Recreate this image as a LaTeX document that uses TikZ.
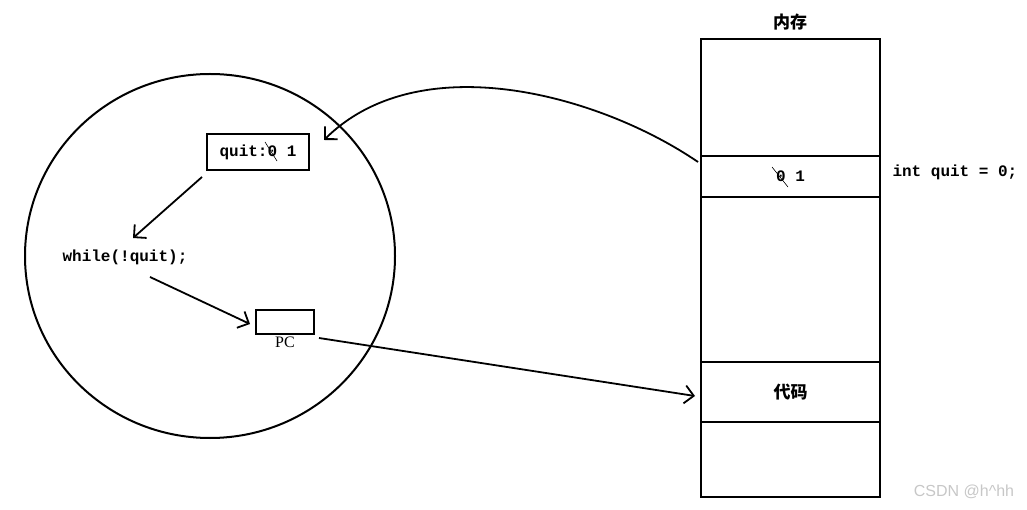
\documentclass[tikz,border=0pt]{standalone}
\usepackage{fontspec}
\setmainfont{Liberation Serif}
\setmonofont{Liberation Mono}
\setsansfont{Liberation Sans}
\newfontfamily\cjk{Noto Sans CJK SC}
\usetikzlibrary{positioning,arrows.meta}

\tikzset{
  cell/.style={draw, line width=2pt, minimum width=179pt, inner sep=0pt, outer sep=0pt},
  codetext/.style={font=\ttfamily\bfseries\fontsize{16}{18}\selectfont},
  cjktext/.style={font=\cjk\bfseries\fontsize{17}{20}\selectfont},
  arr/.style={line width=1.8pt, -{Straight Barb[length=9pt,width=18pt]}},
  cross/.style={line width=0.6pt},
}

\begin{document}
\begin{tikzpicture}[x=1pt,y=-1pt]
  \useasboundingbox (0,0) rectangle (1027,510);

  % 线程
  \draw[line width=2pt] (210,256) ellipse (185pt and 182pt);
  \node[codetext, draw, line width=2pt, minimum width=102pt, minimum height=36pt, inner sep=0pt] (quitbox) at (258,152) {quit:0 1};
  \draw[cross] (265,142) -- (277,161);
  \node[codetext] (loop) at (125,257) {while(!quit);};
  \node[draw, line width=2pt, minimum width=58pt, minimum height=24pt, inner sep=0pt] (pcbox) at (285,322) {};
  \node[below=0pt of pcbox, inner sep=2pt, font=\fontsize{16}{18}\selectfont] (pclabel) {PC};

  % 内存
  \node[cell, minimum height=117pt] (topcell) at (790.5,97.5) {};
  \node[cell, codetext, minimum height=41pt, below=0pt of topcell] (varcell) {0 1};
  \node[cell, minimum height=165pt, below=0pt of varcell] (midcell) {};
  \node[cell, cjktext, minimum height=60pt, below=0pt of midcell] (codecell) {代码};
  \node[cell, minimum height=75pt, below=0pt of codecell] (lowcell) {};
  \draw[cross] (772,167) -- (788,187);
  \node[cjktext] (memlabel) at (790,22) {内存};
  \node[codetext, anchor=west] (decl) at (889,172) {int quit = 0;};

  % 箭头
  \draw[arr] ([shift={(-3,6)}]varcell.north west) .. controls (600,95) and (420,45) .. ([shift={(14,-12)}]quitbox.east);
  \draw[arr] ([shift={(-4,6)}]quitbox.south west) -- ([shift={(8,-8)}]loop.north);
  \draw[arr] ([shift={(25,9)}]loop.south) -- ([shift={(-5,2)}]pcbox.west);
  \draw[arr] ([shift={(4,3)}]pcbox.south east) -- ([shift={(-6,4)}]codecell.west);

  \node[font=\sffamily\fontsize{16}{18}\selectfont, text=black!22] (mark) at (964,492) {CSDN @h\textasciicircum hh};
\end{tikzpicture}
\end{document}
